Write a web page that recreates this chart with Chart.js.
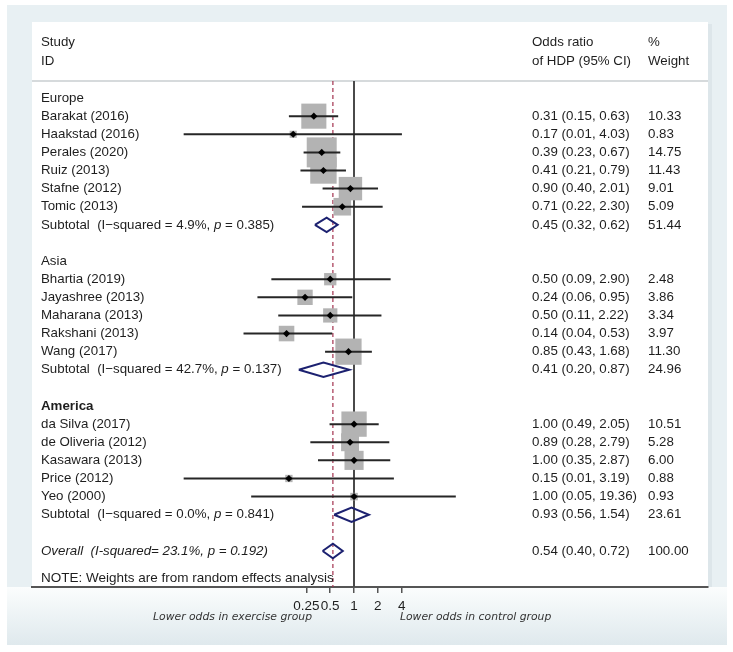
<!DOCTYPE html>
<html><head><meta charset="utf-8">
<script src="https://cdn.jsdelivr.net/npm/chart.js@4.4.1/dist/chart.umd.min.js"></script>
<style>html,body{margin:0;padding:0;background:#fff}canvas{display:block}</style>
</head><body>
<canvas id="c" width="733" height="652"></canvas>
<script>
// ---------- DATA ----------
const regions = ['Europe', 'Asia', 'America'];
const regionBold = [false, false, true];
const studies = ['Barakat (2016)', 'Haakstad (2016)', 'Perales (2020)', 'Ruiz (2013)', 'Stafne (2012)', 'Tomic (2013)',
  'Bhartia (2019)', 'Jayashree (2013)', 'Maharana (2013)', 'Rakshani (2013)', 'Wang (2017)',
  'da Silva (2017)', 'de Oliveria (2012)', 'Kasawara (2013)', 'Price (2012)', 'Yeo (2000)'];
const studyRegion = [0, 0, 0, 0, 0, 0, 1, 1, 1, 1, 1, 2, 2, 2, 2, 2];
const orEst = [0.31, 0.17, 0.39, 0.41, 0.90, 0.71, 0.50, 0.24, 0.50, 0.14, 0.85, 1.00, 0.89, 1.00, 0.15, 1.00];
const orLo  = [0.15, 0.007, 0.23, 0.21, 0.40, 0.22, 0.09, 0.06, 0.11, 0.04, 0.43, 0.49, 0.28, 0.35, 0.007, 0.05];
const orHi  = [0.63, 4.03, 0.67, 0.79, 2.01, 2.30, 2.90, 0.95, 2.22, 0.53, 1.68, 2.05, 2.79, 2.87, 3.19, 19.36];
const weights = [10.33, 0.83, 14.75, 11.43, 9.01, 5.09, 2.48, 3.86, 3.34, 3.97, 11.30, 10.51, 5.28, 6.00, 0.88, 0.93];
const subEst = [0.45, 0.41, 0.93];
const subLo  = [0.32, 0.20, 0.56];
const subHi  = [0.62, 0.87, 1.54];
const subWeight = [51.44, 24.96, 23.61];
const subI2 = ['4.9%', '42.7%', '0.0%'];
const subP  = ['0.385', '0.137', '0.841'];
const overallEst = [0.54];
const overallLo = [0.40];
const overallHi = [0.72];
const overallWeight = [100.00];
const overallI2 = ['23.1%'];
const overallP = ['0.192'];
const tickValues = [0.25, 0.5, 1, 2, 4];
const tickLabels = ['0.25', '0.5', '1', '2', '4'];

// ---------- LAYOUT OF ROWS ----------
const rows = [];
let r = 0;
regions.forEach((g, gi) => {
  rows.push({ kind: 'head', gi, row: r++ });
  studies.forEach((s, i) => { if (studyRegion[i] === gi) rows.push({ kind: 'study', i, row: r++ }); });
  rows.push({ kind: 'sub', gi, row: r++ });
  r++;
});
const overallRow = r;
const noteRow = r + 1.5;
const studyRow = {}; const subRow = {};
rows.forEach(o => { if (o.kind === 'study') studyRow[o.i] = o.row; if (o.kind === 'sub') subRow[o.gi] = o.row; });

const L = Math.log2;
const FONT = '"Liberation Sans", Arial, Helvetica, sans-serif';
const fmt = v => v.toFixed(2);

// ---------- DATASETS ----------
const datasets = [];
datasets.push({
  type: 'scatter', order: 0,
  data: studies.map((s, i) => ({ x: L(orEst[i]), y: studyRow[i] })),
  pointStyle: 'rectRot', pointRadius: 3.6, backgroundColor: '#000', borderWidth: 0, pointHoverRadius: 3.6
});
studies.forEach((s, i) => {
  datasets.push({
    type: 'line', order: 1, showLine: true,
    data: [{ x: L(orLo[i]), y: studyRow[i] }, { x: L(orHi[i]), y: studyRow[i] }],
    borderColor: '#262626', borderWidth: 2, pointRadius: 0, tension: 0, borderCapStyle: 'butt'
  });
});
const dh = 0.4;
function diamond(est, lo, hi, row) {
  return {
    type: 'line', order: 1, showLine: true,
    data: [{ x: L(lo), y: row }, { x: L(est), y: row - dh }, { x: L(hi), y: row }, { x: L(est), y: row + dh }, { x: L(lo), y: row }],
    borderColor: '#1c2170', borderWidth: 2, pointRadius: 0, tension: 0, borderJoinStyle: 'miter', fill: false
  };
}
regions.forEach((g, gi) => datasets.push(diamond(subEst[gi], subLo[gi], subHi[gi], subRow[gi])));
datasets.push(diamond(overallEst[0], overallLo[0], overallHi[0], overallRow));
datasets.push({
  type: 'scatter', order: 2,
  data: studies.map((s, i) => ({ x: L(orEst[i]), y: studyRow[i] })),
  pointStyle: 'rect', pointRadius: weights.map(w => 5.52 * Math.sqrt(w)),
  pointHoverRadius: weights.map(w => 5.52 * Math.sqrt(w)),
  backgroundColor: '#b3b3b3', borderWidth: 0
});

// ---------- PLUGINS ----------
const bgPlugin = {
  id: 'bg',
  beforeDraw(chart) {
    const ctx = chart.ctx, a = chart.chartArea;
    ctx.save();
    ctx.fillStyle = '#ffffff'; ctx.fillRect(0, 0, 733, 652);
    ctx.fillStyle = '#e8f0f3'; ctx.fillRect(7, 5, 720, 640);
    const g = ctx.createLinearGradient(0, a.bottom, 0, 645);
    g.addColorStop(0, '#fbfdfd'); g.addColorStop(1, '#dfe9ed');
    ctx.fillStyle = g; ctx.fillRect(7, a.bottom, 720, 645 - a.bottom);
    ctx.fillStyle = '#dde6ea'; ctx.fillRect(a.left + 2, 24, a.right - a.left + 2, a.bottom - 24);
    ctx.fillStyle = '#ffffff'; ctx.fillRect(a.left, 22, a.right - a.left, a.bottom - 22);
    ctx.fillStyle = '#d6dadc'; ctx.fillRect(a.left, a.top - 3, a.right - a.left, 2);
    ctx.restore();
  },
  beforeDatasetsDraw(chart) {
    const ctx = chart.ctx, a = chart.chartArea, xs = chart.scales.x;
    ctx.save();
    const x1 = Math.round(xs.getPixelForValue(0));
    ctx.strokeStyle = '#4a4a4a'; ctx.lineWidth = 2;
    ctx.beginPath(); ctx.moveTo(x1, a.top - 2); ctx.lineTo(x1, a.bottom); ctx.stroke();
    const xo = xs.getPixelForValue(L(overallEst[0]));
    ctx.strokeStyle = '#a3324f'; ctx.lineWidth = 1.2; ctx.setLineDash([4, 3]);
    ctx.beginPath(); ctx.moveTo(xo, a.top - 2); ctx.lineTo(xo, a.bottom); ctx.stroke();
    ctx.restore();
  },
  afterDraw(chart) {
    const ctx = chart.ctx, ys = chart.scales.y;
    const X0 = 41, XOR = 532, XW = 648;
    ctx.save();
    ctx.fillStyle = '#1e1e1e';
    ctx.textBaseline = 'middle';
    const reg = '13.3px ' + FONT, ita = 'italic 13.3px ' + FONT, bold = 'bold 13.3px ' + FONT;
    ctx.font = reg;
    ctx.fillText('Study', X0, 42); ctx.fillText('ID', X0, 61);
    ctx.fillText('Odds ratio', XOR, 42); ctx.fillText('of HDP (95% CI)', XOR, 61);
    ctx.fillText('%', XW, 42); ctx.fillText('Weight', XW, 61);
    function segs(parts, x, y) {
      parts.forEach(([t, f]) => { ctx.font = f; ctx.fillText(t, x, y); x += ctx.measureText(t).width; });
    }
    rows.forEach(o => {
      const y = ys.getPixelForValue(o.row);
      if (o.kind === 'head') {
        ctx.font = regionBold[o.gi] ? bold : reg;
        ctx.fillText(regions[o.gi], X0, y);
      } else if (o.kind === 'study') {
        const i = o.i;
        ctx.font = reg;
        ctx.fillText(studies[i], X0, y);
        ctx.fillText(fmt(orEst[i]) + ' (' + fmt(orLo[i]) + ', ' + fmt(orHi[i]) + ')', XOR, y);
        ctx.fillText(fmt(weights[i]), XW, y);
      } else {
        const gi = o.gi;
        segs([['Subtotal  (I\u2212squared = ' + subI2[gi] + ', ', reg], ['p', ita], [' = ' + subP[gi] + ')', reg]], X0, y);
        ctx.font = reg;
        ctx.fillText(fmt(subEst[gi]) + ' (' + fmt(subLo[gi]) + ', ' + fmt(subHi[gi]) + ')', XOR, y);
        ctx.fillText(fmt(subWeight[gi]), XW, y);
      }
    });
    const yo = ys.getPixelForValue(overallRow);
    ctx.font = ita;
    ctx.fillText('Overall  (I-squared= ' + overallI2[0] + ', p = ' + overallP[0] + ')', X0, yo);
    ctx.font = reg;
    ctx.fillText(fmt(overallEst[0]) + ' (' + fmt(overallLo[0]) + ', ' + fmt(overallHi[0]) + ')', XOR, yo);
    ctx.fillText(fmt(overallWeight[0]), XW, yo);
    ctx.font = '13.5px ' + FONT;
    ctx.fillText('NOTE: Weights are from random effects analysis', X0, ys.getPixelForValue(noteRow));
    ctx.font = 'italic 10.8px "DejaVu Sans", Verdana, sans-serif';
    ctx.fillStyle = '#333';
    ctx.textAlign = 'right';
    ctx.fillText('Lower odds in exercise group', 312, 617);
    ctx.textAlign = 'left';
    ctx.fillText('Lower odds in control group', 400, 617);
    ctx.restore();
  }
};

new Chart(document.getElementById('c'), {
  type: 'scatter',
  data: { datasets },
  options: {
    responsive: false, animation: false, devicePixelRatio: 1, events: [],
    layout: { padding: { left: 32, right: 25, top: 83, bottom: 0 } },
    plugins: { legend: { display: false }, tooltip: { enabled: false } },
    scales: {
      x: {
        type: 'linear', position: 'bottom', min: -13.53, max: 14.87,
        afterBuildTicks: s => { s.ticks = tickValues.map(v => ({ value: L(v) })); },
        afterFit: s => { s.height = 65; },
        ticks: {
          autoSkip: false, maxRotation: 0, padding: 5, color: '#1e1e1e',
          font: { family: FONT, size: 13.5 },
          callback: (v) => { const k = tickValues.findIndex(t => Math.abs(L(t) - v) < 1e-9); return k >= 0 ? tickLabels[k] : ''; }
        },
        grid: { drawOnChartArea: false, drawTicks: true, tickLength: 6, color: '#555', lineWidth: 1.5 },
        border: { display: true, color: '#555', width: 2 }
      },
      y: { type: 'linear', display: false, reverse: true, min: -0.83, max: 26.99 }
    }
  },
  plugins: [bgPlugin]
});
</script>
</body></html>
